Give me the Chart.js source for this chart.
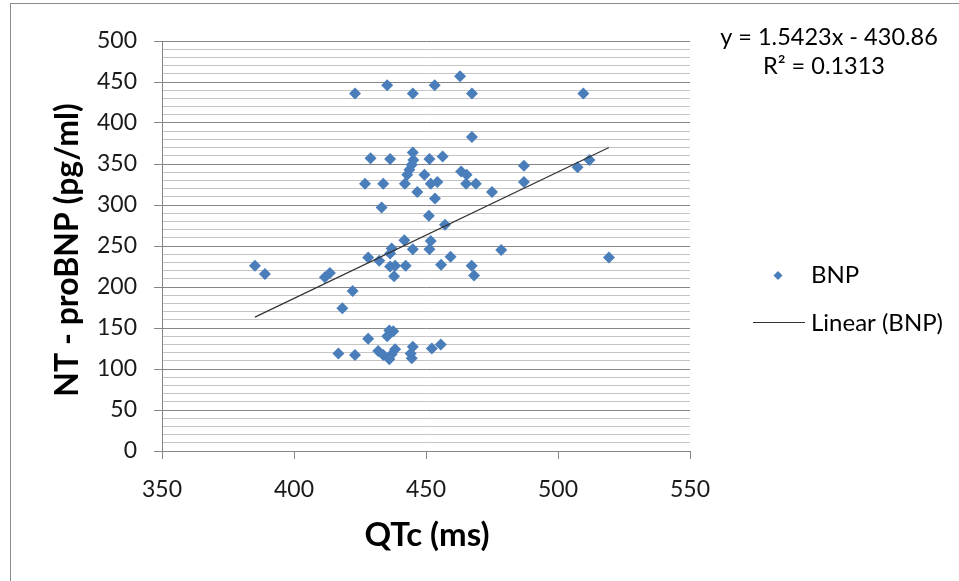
<!DOCTYPE html>
<html>
<head>
<meta charset="utf-8">
<script src="https://cdn.jsdelivr.net/npm/chart.js@4.4.1/dist/chart.umd.min.js"></script>
<style>
html,body{margin:0;padding:0;background:#fff;}
#wrap{width:959px;height:581px;position:relative;overflow:hidden;}
canvas{display:block;}
</style>
</head>
<body>
<div id="wrap"><canvas id="c" width="959" height="581"></canvas></div>
<script>
// QTc (ms) values
const qtcValues = [
  423.1, 435.3, 445.0, 453.3, 462.9, 467.4, 509.6, 467.4,
  429.0, 436.4, 445.0, 445.2, 444.6, 443.7, 442.9, 451.3, 456.3, 449.4,
  426.9, 433.8, 442.0, 451.8, 454.3, 446.7, 453.4, 433.2, 451.1,
  463.3, 465.4, 465.2, 468.9, 475.0, 487.1, 487.1, 507.4, 511.9,
  457.2, 441.8, 451.8, 437.0, 436.4, 445.0, 451.3, 428.1, 432.3, 459.3, 478.5, 519.3,
  436.4, 438.3, 442.3, 437.9, 455.7, 467.3, 468.2,
  385.2, 389.0, 411.7, 413.6, 422.2, 418.3,
  416.8, 423.1, 428.1, 436.1, 437.6, 435.3, 431.9, 433.8, 436.1, 437.0, 438.3,
  445.0, 444.2, 444.6, 452.2, 455.6
];
// NT-proBNP (pg/ml) values
const bnpValues = [
  436, 446, 436, 446, 457, 436, 436, 383,
  357, 356, 364, 355, 349, 343, 337, 356, 359, 337,
  326, 326, 326, 326, 328, 316, 308, 297, 287,
  341, 337, 326, 326, 316, 348, 328, 346, 355,
  276, 257, 256, 247, 241, 246, 246, 236, 232, 237, 245, 236,
  225, 226, 226, 213, 227, 226, 214,
  226, 216, 212, 217, 195, 174,
  119, 117, 137, 147, 146, 140, 122, 117, 112, 118, 124,
  127, 119, 113, 125, 130
];
// Linear trendline as stated on the chart
const trendSlope = 1.5423;
const trendIntercept = -430.86;
const equationLabel = 'y = 1.5423x - 430.86';
const r2Label = 'R² = 0.1313';
const xTickValues = [350, 400, 450, 500, 550];
const yTickValues = [0, 50, 100, 150, 200, 250, 300, 350, 400, 450, 500];
const seriesName = 'BNP';
const trendName = 'Linear (BNP)';
const xTitle = 'QTc (ms)';
const yTitle = 'NT - proBNP (pg/ml)';

const points = qtcValues.map((x, i) => ({x: x, y: bnpValues[i]}));
const xMinData = Math.min(...qtcValues);
const xMaxData = Math.max(...qtcValues);
const trendPoints = [xMinData, xMaxData].map(x => ({x: x, y: trendSlope * x + trendIntercept}));

const BLUE = '#4A7EBB';
const FONT = 'Lato, "Open Sans", sans-serif';
const MAJOR = '#868686';
const MINOR = '#c4c4c4';

const decor = {
  id: 'decor',
  beforeDraw(chart) {
    const ctx = chart.ctx;
    ctx.save();
    ctx.fillStyle = '#fff';
    ctx.fillRect(0, 0, chart.width, chart.height);
    ctx.strokeStyle = '#8c8c8c';
    ctx.lineWidth = 1;
    ctx.strokeRect(10.5, 3.5, 1200, 1200);
    ctx.restore();
  },
  afterDraw(chart) {
    const ctx = chart.ctx;
    ctx.save();
    ctx.fillStyle = '#000';
    // axis titles
    ctx.font = 'bold 33px ' + FONT;
    ctx.textAlign = 'center';
    ctx.textBaseline = 'middle';
    ctx.fillText(xTitle, 427, 535);
    ctx.font = 'bold 32px ' + FONT;
    ctx.save();
    ctx.translate(68, 250);
    ctx.rotate(-Math.PI / 2);
    ctx.fillText(yTitle, 0, 0);
    ctx.restore();
    // equation
    ctx.font = '23.5px ' + FONT;
    ctx.fillText(equationLabel, 829, 37);
    ctx.fillText(r2Label, 824, 66);
    // legend
    ctx.textAlign = 'left';
    ctx.font = '24px ' + FONT;
    ctx.fillText(seriesName, 811, 275);
    ctx.fillText(trendName, 811, 323);
    ctx.fillStyle = BLUE;
    ctx.beginPath();
    ctx.moveTo(778, 271); ctx.lineTo(782.5, 275.5); ctx.lineTo(778, 280); ctx.lineTo(773.5, 275.5);
    ctx.closePath();
    ctx.fill();
    ctx.strokeStyle = '#333';
    ctx.lineWidth = 1;
    ctx.beginPath();
    ctx.moveTo(753, 322.5); ctx.lineTo(805, 322.5);
    ctx.stroke();
    ctx.restore();
  }
};

new Chart(document.getElementById('c'), {
  type: 'scatter',
  data: {
    datasets: [
      {
        label: trendName,
        type: 'line',
        data: trendPoints,
        borderColor: '#333333',
        borderWidth: 1.2,
        pointRadius: 0,
        fill: false,
        order: 0
      },
      {
        label: seriesName,
        data: points,
        pointStyle: 'rectRot',
        pointRadius: 6,
        pointBorderWidth: 0,
        backgroundColor: BLUE,
        borderColor: BLUE,
        order: 1
      }
    ]
  },
  options: {
    responsive: false,
    animation: false,
    devicePixelRatio: 1,
    layout: {padding: {left: 0, right: 269, top: 41, bottom: 0}},
    plugins: {legend: {display: false}, tooltip: {enabled: false}},
    scales: {
      x: {
        type: 'linear',
        min: xTickValues[0],
        max: xTickValues[xTickValues.length - 1],
        afterBuildTicks: s => { s.ticks = xTickValues.map(v => ({value: v})); },
        ticks: {font: {family: FONT, size: 23}, color: '#1a1a1a', padding: 17, maxRotation: 0},
        grid: {drawOnChartArea: false, drawTicks: true, tickLength: 8, color: MAJOR},
        border: {color: MAJOR},
        afterFit: s => { s.height = 130; }
      },
      y: {
        type: 'linear',
        min: yTickValues[0],
        max: yTickValues[yTickValues.length - 1],
        ticks: {
          stepSize: 10,
          maxTicksLimit: 100,
          autoSkip: false,
          font: {family: FONT, size: 23},
          color: '#1a1a1a',
          padding: 17,
          callback: v => (yTickValues.includes(v) ? String(v) : '')
        },
        grid: {
          color: c => (yTickValues.includes(c.tick.value) ? MAJOR : MINOR),
          tickColor: c => (yTickValues.includes(c.tick.value) ? MAJOR : 'rgba(0,0,0,0)'),
          tickLength: 8,
          lineWidth: 1
        },
        border: {color: MAJOR},
        afterFit: s => { s.width = 162; }
      }
    }
  },
  plugins: [decor]
});
</script>
</body>
</html>
